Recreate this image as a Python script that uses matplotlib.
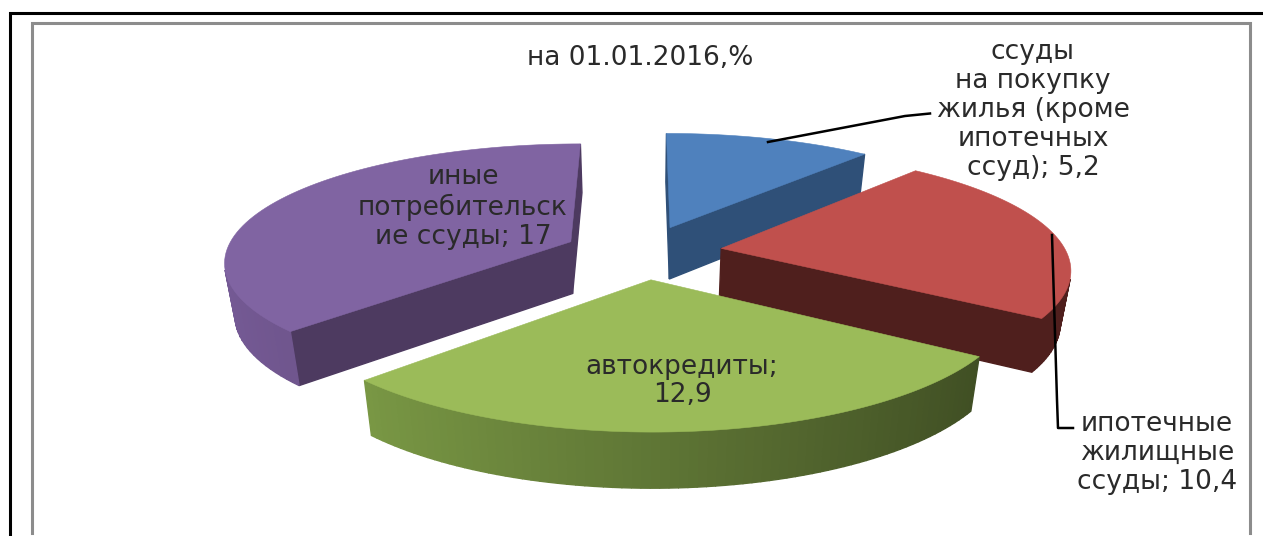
import numpy as np
import matplotlib
matplotlib.use("Agg")
import matplotlib.pyplot as plt
from matplotlib.patches import Polygon

categories = ["ссуды\nна покупку\nжилья (кроме\nипотечных\nссуд); 5,2",
              "ипотечные\nжилищные\nссуды; 10,4",
              "автокредиты;\n12,9",
              "иные\nпотребительск\nие ссуды; 17"]
values = [5.2, 10.4, 12.9, 17.0]
title = "на 01.01.2016,%"
colors = ["#4f81bd", "#c0504d", "#9bbb59", "#8064a2"]
cut_colors = ["#2f5078", "#4f1f1d", "#3f4d22", "#4d3a60"]
rim_light = ["#5a86ba", "#4f1f1d", "#83a44a", "#755a95"]
rim_dark = ["#2f5078", "#4f1f1d", "#3a4720", "#4d3a60"]
explode = [0.23, 0.23, 0.23, 0.23]
label_xy = [(1033, 110), (1157, 453), (682, 381), (463, 207)]

W, H = 1263, 536
CX, CY = 643, 252
RX, RY = 345, 117
KX, KY = 0.155, 0.164
DEPTH = 52
KD = 0.06
SHRINK = 0.025


def project(X, Y, z=0.0):
    sx = CX + RX * X / (1 + KX * Y) * (1 - SHRINK * z)
    sy = CY - RY * Y / (1 + KY * Y) + z * DEPTH / (1 + KD * Y)
    return sx, sy


def blend(c1, c2, t):
    a = np.array(matplotlib.colors.to_rgb(c1))
    b = np.array(matplotlib.colors.to_rgb(c2))
    return tuple(a + (b - a) * t)


def area(q):
    x, y = q[:, 0], q[:, 1]
    return 0.5 * np.sum(x * np.roll(y, -1) - np.roll(x, -1) * y)


fig = plt.figure(figsize=(W / 100, H / 100), dpi=100)
ax = fig.add_axes([0, 0, 1, 1])
ax.set_xlim(0, W)
ax.set_ylim(H, 0)
ax.axis("off")

ax.plot([10, 10, W], [H, 12.5, 12.5], color="black", lw=2.2, solid_joinstyle="miter")
ax.plot([32, 32, 1250, 1250], [533, 23, 23, 533], color="#8c8c8c", lw=2.2,
        solid_joinstyle="miter")

fracs = np.array(values) / sum(values) * 2 * np.pi
ends = np.cumsum(fracs)
starts = ends - fracs

for i in [0, 3, 1, 2]:
    th = np.linspace(starts[i], ends[i], 80)
    mid = (starts[i] + ends[i]) / 2
    ex, ey = explode[i] * np.sin(mid), explode[i] * np.cos(mid)
    PX = np.concatenate([[ex], ex + np.sin(th)])
    PY = np.concatenate([[ey], ey + np.cos(th)])
    top = np.array(project(PX, PY, 0)).T
    bot = np.array(project(PX, PY, 1)).T
    n = len(top)
    quads = []
    for a_, b_ in [(0, 1), (n - 1, 0)]:
        q = np.array([top[a_], top[b_], bot[b_], bot[a_]])
        quads.append((q, cut_colors[i]))
    for k in range(1, n - 1):
        q = np.array([top[k], top[k + 1], bot[k + 1], bot[k]])
        t = np.clip((np.sin(th[k]) + 1) / 2, 0, 1)
        quads.append((q, blend(rim_light[i], rim_dark[i], t)))
    for q, c in quads:
        if area(q) < 0:
            ax.add_patch(Polygon(q, closed=True, fc=c, ec=c, lw=1.0))
    ax.add_patch(Polygon(top, closed=True, fc=colors[i], ec=colors[i], lw=0.4))

ax.plot([768, 905, 930], [142, 116, 113.5], color="black", lw=1.8)
ax.plot([1052, 1057, 1058, 1073], [235, 400, 428, 428], color="black", lw=1.8)

fs = 19
tc = "#2a2a2a"
ax.text(640, 58, title, ha="center", va="center", fontsize=fs, color=tc)
for lab, (x, y) in zip(categories, label_xy):
    ax.text(x, y, lab, ha="center", va="center", fontsize=fs, color=tc, linespacing=1.14)

fig.savefig("out.png", dpi=100)
